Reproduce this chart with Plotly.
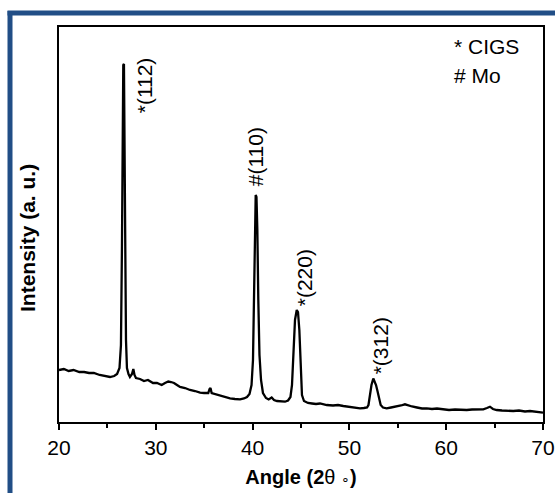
import plotly.graph_objects as go

# ---- data ----
two_theta = [
    20.0, 20.5, 21.0, 21.5, 22.1, 22.6, 23.1, 23.6, 24.2, 24.75, 25.27, 25.7, 26.0, 26.25,
    26.4, 26.5, 26.59, 26.64, 26.71, 26.77, 26.85, 26.92, 27.02, 27.18, 27.33, 27.54, 27.68,
    27.8, 27.95, 28.37, 28.78, 29.19, 29.71, 30.12, 30.61, 30.95, 31.29, 31.57, 31.88, 32.19,
    32.5, 33.02, 33.53, 34.05, 34.57, 34.98, 35.42, 35.55, 35.65, 35.77, 36.12, 36.63, 37.15,
    37.67, 38.18, 38.7, 39.11, 39.42, 39.68, 39.89, 40.04, 40.15, 40.25, 40.32, 40.4, 40.49,
    40.59, 40.71, 40.87, 41.07, 41.38, 41.66, 41.97, 42.21, 42.52, 42.93, 43.35, 43.66, 43.91,
    44.07, 44.22, 44.38, 44.56, 44.69, 44.83, 44.95, 45.1, 45.31, 45.72, 46.14, 46.55, 46.96,
    47.66, 48.31, 48.82, 49.37, 49.96, 50.58, 51.1, 51.5, 51.82, 51.97, 52.13, 52.28, 52.47,
    52.59, 52.75, 52.9, 53.06, 53.23, 53.47, 53.85, 54.3, 54.89, 55.33, 55.74, 56.05, 56.47,
    56.98, 57.5, 57.99, 58.53, 59.05, 59.7, 60.29, 60.91, 61.53, 62.12, 62.67, 63.29, 63.83,
    64.21, 64.52, 64.83, 65.21, 65.76, 66.28, 66.93, 67.52, 68.14, 68.66, 69.28, 69.79, 70.0,
]
intensity = [
    520, 530, 510, 520, 500, 500, 490, 490, 470, 460, 450, 460, 480, 540,
    770, 1720, 3020, 3570, 3580, 3020, 1720, 820, 540, 480, 450, 480, 530,
    470, 440, 430, 410, 420, 390, 390, 370, 390, 405, 400, 390, 370,
    350, 340, 320, 310, 293, 290, 290, 330, 340, 290, 280, 260, 250,
    237, 230, 227, 235, 250, 280, 370, 620, 1220, 2020, 2270, 2250, 1920,
    1220, 670, 420, 290, 240, 225, 245, 220, 210, 205, 203, 215, 250,
    370, 720, 1020, 1120, 1100, 920, 520, 270, 210, 190, 185, 180, 185,
    170, 165, 170, 160, 150, 145, 137, 140, 145, 170, 290, 370, 435,
    410, 370, 310, 240, 170, 145, 137, 145, 153, 165, 177, 165, 155,
    145, 135, 137, 130, 135, 127, 120, 125, 120, 120, 125, 125, 127,
    140, 153, 130, 120, 115, 110, 110, 115, 105, 110, 103, 95, 93,
]

peak_labels = ["*(112)", "#(110)", "*(220)", "*(312)"]
peak_theta = [26.64, 40.32, 44.56, 52.47]
peak_height = [3570, 2270, 1120, 435]
peak_shift_x = [21, 0, 8, 7]
peak_shift_y = [-50, 7, 2, 2]

legend_lines = ["* CIGS", "# Mo"]

x_tick_vals = [20, 30, 40, 50, 60, 70]

FONT = "Liberation Sans, Arial, sans-serif"
W, H = 555, 493
L, R, T, B = 59, 12, 27, 71
PW, PH = W - L - R, H - T - B


def px_x(p):
    return (p - L) / PW


def px_y(p):
    return (H - B - p) / PH


fig = go.Figure()
fig.add_trace(go.Scatter(
    x=two_theta, y=intensity, mode="lines",
    line=dict(color="black", width=2.3), showlegend=False, hoverinfo="x+y",
))

annotations = []
for lab, xt, yt, sx, sy in zip(peak_labels, peak_theta, peak_height, peak_shift_x, peak_shift_y):
    annotations.append(dict(
        x=xt, y=yt, xref="x", yref="y", text=lab, showarrow=False,
        textangle=-90, xanchor="center", yanchor="bottom",
        xshift=sx, yshift=sy, font=dict(family=FONT, size=21, color="black"),
    ))

for i, txt in enumerate(legend_lines):
    annotations.append(dict(
        x=px_x(452), y=px_y(46 + 29 * i), xref="paper", yref="paper", text=txt,
        showarrow=False, xanchor="left", yanchor="middle",
        font=dict(family=FONT, size=21, color="black"),
    ))

# y-axis title placed slightly below the plot centre, as in the reference
annotations.append(dict(
    x=px_x(28), y=px_y(238), xref="paper", yref="paper",
    text="<b>Intensity (a. u.)</b>", showarrow=False, textangle=-90,
    xanchor="center", yanchor="middle",
    font=dict(family=FONT, size=21, color="black"),
))

blue = "rgb(33,78,134)"
shapes = [
    dict(type="line", xref="paper", yref="paper", x0=px_x(10), x1=px_x(10),
         y0=px_y(11), y1=px_y(500), line=dict(color=blue, width=5)),
    dict(type="line", xref="paper", yref="paper", x0=px_x(7.5), x1=px_x(560),
         y0=px_y(13), y1=px_y(13), line=dict(color=blue, width=5)),
]

fig.update_layout(
    width=W, height=H,
    margin=dict(l=L, r=R, t=T, b=B, pad=0, autoexpand=False),
    paper_bgcolor="white", plot_bgcolor="white",
    font=dict(family=FONT, color="black"),
    annotations=annotations, shapes=shapes,
    xaxis=dict(
        range=[20, 70], tickvals=x_tick_vals, ticks="outside", ticklen=6,
        tickwidth=2, tickcolor="black", showline=True, linecolor="black",
        linewidth=2, mirror=True, showgrid=False, zeroline=False, automargin=False,
        tickfont=dict(family=FONT, size=21, color="black"),
        minor=dict(dtick=5, ticks="outside", ticklen=4, tickwidth=2, tickcolor="black"),
        title=dict(text="<b>Angle (2</b>θ <span style='font-size:14px'>∘</span><b>)</b>",
                   standoff=12, font=dict(family=FONT, size=20, color="black")),
    ),
    yaxis=dict(
        range=[0, 3950], showticklabels=False, ticks="", showline=True,
        linecolor="black", linewidth=2, mirror=True, showgrid=False, zeroline=False,
        automargin=False,
    ),
)

fig.write_html("out.html")
